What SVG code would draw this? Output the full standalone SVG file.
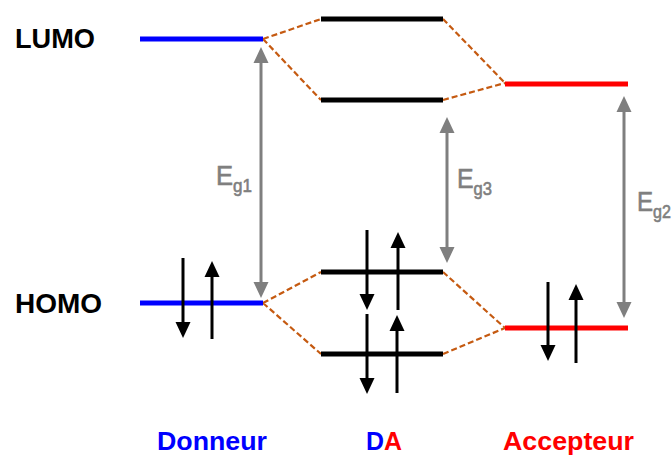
<svg xmlns="http://www.w3.org/2000/svg" width="672" height="456" viewBox="0 0 672 456">
<style>
.lvl{stroke-width:5;fill:none}
.blue{stroke:#0000ff}
.red{stroke:#ff0000}
.blk{stroke:#000000}
.dash{stroke:#c55a11;stroke-width:2.2;stroke-dasharray:6 3;fill:none}
.gap{stroke:#7f7f7f;stroke-width:3;fill:none}
.gaph{fill:#7f7f7f}
.el{stroke:#000;stroke-width:3;fill:none}
.elh{fill:#000}
.lab{font-family:"Liberation Sans",Arial,sans-serif;font-weight:bold;font-size:27px}
.bot{font-size:26px}
.eg{font-family:"Liberation Sans",Arial,sans-serif;fill:#7f7f7f;stroke:#7f7f7f;stroke-width:0.6}
.sub{font-size:18px}
</style>
<rect width="672" height="456" fill="#ffffff"/>
<g id="connectors">
<path class="dash" d="M263,39 L321,19 M263,39 L321,100 M443,19 L505,83 M443,100 L505,83"/>
<path class="dash" d="M263,303 L321,272 M263,303 L321,354 M443,272 L505,328 M443,354 L505,328"/>
</g>
<g id="donneur-lumo"><line class="lvl blue" x1="140" y1="39" x2="263" y2="39"/></g>
<g id="donneur-homo"><line class="lvl blue" x1="140" y1="303" x2="263" y2="303"/>
<line class="el" x1="183" y1="258" x2="183" y2="324"/><path class="elh" d="M175.5,322 L190.5,322 L183,338 Z"/>
<line class="el" x1="212" y1="339" x2="212" y2="274"/><path class="elh" d="M204.5,277 L219.5,277 L212,261 Z"/>
</g>
<g id="da-lumo-up"><line class="lvl blk" x1="321" y1="19" x2="443" y2="19"/></g>
<g id="da-lumo-low"><line class="lvl blk" x1="321" y1="100" x2="443" y2="100"/></g>
<g id="da-homo-up"><line class="lvl blk" x1="321" y1="272" x2="443" y2="272"/>
<line class="el" x1="367" y1="230" x2="367" y2="296"/><path class="elh" d="M359.5,294 L374.5,294 L367,310 Z"/>
<line class="el" x1="398" y1="310" x2="398" y2="245"/><path class="elh" d="M390.5,248 L405.5,248 L398,232 Z"/>
</g>
<g id="da-homo-low"><line class="lvl blk" x1="321" y1="354" x2="443" y2="354"/>
<line class="el" x1="367" y1="314" x2="367" y2="380"/><path class="elh" d="M359.5,378 L374.5,378 L367,394 Z"/>
<line class="el" x1="397" y1="393" x2="397" y2="328"/><path class="elh" d="M389.5,331 L404.5,331 L397,315 Z"/>
</g>
<g id="accepteur-lumo"><line class="lvl red" x1="505" y1="84" x2="628" y2="84"/></g>
<g id="accepteur-homo"><line class="lvl red" x1="505" y1="328" x2="628" y2="328"/>
<line class="el" x1="548" y1="282" x2="548" y2="347"/><path class="elh" d="M540.5,345 L555.5,345 L548,361 Z"/>
<line class="el" x1="576" y1="363" x2="576" y2="297"/><path class="elh" d="M568.5,300 L583.5,300 L576,284 Z"/>
</g>
<g id="gaps">
<line class="gap" x1="261" y1="60" x2="261" y2="285"/><path class="gaph" d="M253.5,63 L268.5,63 L261,47 Z M253.5,282 L268.5,282 L261,298 Z"/>
<line class="gap" x1="447" y1="130" x2="447" y2="250"/><path class="gaph" d="M439.5,133 L454.5,133 L447,117 Z M439.5,247 L454.5,247 L447,263 Z"/>
<line class="gap" x1="624" y1="109" x2="624" y2="305"/><path class="gaph" d="M616.5,112 L631.5,112 L624,96 Z M616.5,302 L631.5,302 L624,318 Z"/>
</g>
<g id="labels">
<text class="lab" x="15" y="48" textLength="80" lengthAdjust="spacingAndGlyphs" fill="#000">LUMO</text>
<text class="lab" x="15" y="313" textLength="87" lengthAdjust="spacingAndGlyphs" fill="#000">HOMO</text>
<text class="lab bot" x="157" y="450" textLength="110" lengthAdjust="spacingAndGlyphs" fill="#0000ff">Donneur</text>
<text class="lab bot" x="366" y="450" textLength="36" lengthAdjust="spacingAndGlyphs"><tspan fill="#0000ff">D</tspan><tspan fill="#ff0000">A</tspan></text>
<text class="lab bot" x="503" y="450" textLength="131" lengthAdjust="spacingAndGlyphs" fill="#ff0000">Accepteur</text>
</g>
<g id="eg-labels">
<text class="eg" x="216" y="185" font-size="27" textLength="36" lengthAdjust="spacingAndGlyphs">E<tspan class="sub" dy="7">g1</tspan></text>
<text class="eg" x="457" y="188" font-size="27" textLength="35" lengthAdjust="spacingAndGlyphs">E<tspan class="sub" dy="7">g3</tspan></text>
<text class="eg" x="637" y="211" font-size="27" textLength="34" lengthAdjust="spacingAndGlyphs">E<tspan class="sub" dy="7">g2</tspan></text>
</g>
</svg>
